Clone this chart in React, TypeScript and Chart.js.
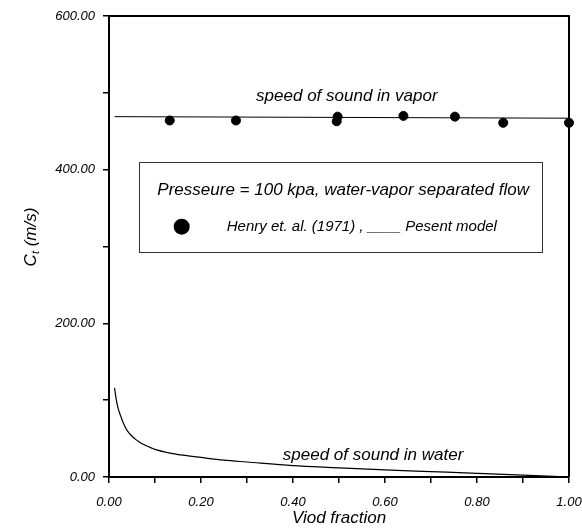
import React, { useEffect, useRef } from "react";
import { Chart, registerables } from "chart.js";

Chart.register(...registerables);

// Present model: speed of sound in vapor
const vaporModelX = [0.012, 1.0];
const vaporModelY = [469, 467];

// Henry et al. (1971) measurements
const henryX = [0.132, 0.276, 0.497, 0.495, 0.64, 0.752, 0.857, 1.0];
const henryY = [464, 464, 469, 463, 470, 469, 461, 461];

// Present model: speed of sound in water
const waterX = [0.012, 0.016, 0.02, 0.025, 0.03, 0.035, 0.04, 0.05, 0.06, 0.07, 0.08, 0.1, 0.13, 0.16, 0.2, 0.25, 0.3, 0.4, 0.5, 0.6, 0.7, 0.8, 0.9, 1.0];
const waterY = [116, 100, 89, 80, 72, 65.5, 60, 53, 48, 44, 41, 36, 31.5, 28.5, 25.5, 22, 19.5, 14.7, 12, 9.2, 7, 4.8, 2.5, 0];

const xTitle = "Viod fraction";
const legendTitle = "Presseure = 100 kpa, water-vapor separated flow";
const legendEntry = "Henry et. al. (1971) , ____ Pesent model";
const vaporLabel = "speed of sound in vapor";
const waterLabel = "speed of sound in water";

const FONT = "'Liberation Sans', Arial, sans-serif";

const toPts = (xs: number[], ys: number[]) => xs.map((x, i) => ({ x, y: ys[i] }));

export default function App() {
  const ref = useRef<HTMLCanvasElement | null>(null);

  useEffect(() => {
    if (!ref.current) return;

    const decor = {
      id: "decor",
      afterDraw(chart: any) {
        const { ctx, chartArea: a, scales } = chart;
        const xs = scales.x;
        const ys = scales.y;
        const px = (v: number) => xs.getPixelForValue(v);
        const py = (v: number) => ys.getPixelForValue(v);
        ctx.save();
        // frame top/right
        ctx.strokeStyle = "#000";
        ctx.lineWidth = 2;
        ctx.beginPath();
        ctx.moveTo(a.left, a.top);
        ctx.lineTo(a.right, a.top);
        ctx.lineTo(a.right, a.bottom);
        ctx.stroke();

        ctx.fillStyle = "#000";
        ctx.textBaseline = "middle";
        // annotations
        ctx.font = `italic 17px ${FONT}`;
        ctx.textAlign = "center";
        ctx.fillText(vaporLabel, px(0.517), py(495));
        ctx.fillText(waterLabel, px(0.574), py(28.6));

        // legend box
        const bx0 = px(0.065), bx1 = px(0.941), by0 = py(410), by1 = py(293);
        ctx.lineWidth = 1;
        ctx.strokeStyle = "#333";
        ctx.strokeRect(Math.round(bx0) + 0.5, Math.round(by0) + 0.5, Math.round(bx1 - bx0), Math.round(by1 - by0));
        ctx.font = `italic 17px ${FONT}`;
        ctx.textAlign = "center";
        ctx.fillText(legendTitle, px(0.509), py(372.7));
        ctx.beginPath();
        ctx.arc(px(0.158), py(325.8), 8, 0, Math.PI * 2);
        ctx.fill();
        ctx.font = `italic 15px ${FONT}`;
        ctx.textAlign = "left";
        ctx.fillText(legendEntry, px(0.256), py(326));

        // x title
        ctx.font = `italic 17px ${FONT}`;
        ctx.textAlign = "center";
        ctx.fillText(xTitle, (a.left + a.right) / 2, 518);

        // y title: C_t (m/s)
        ctx.translate(30, 237);
        ctx.rotate(-Math.PI / 2);
        ctx.textAlign = "left";
        ctx.textBaseline = "alphabetic";
        ctx.font = `italic 17px ${FONT}`;
        const c = "C";
        const cw = ctx.measureText(c).width;
        const rest = " (m/s)";
        const rw = ctx.measureText(rest).width;
        ctx.font = `italic 11px ${FONT}`;
        const tw = ctx.measureText("t").width;
        const total = cw + tw + rw;
        let x0 = -total / 2;
        ctx.font = `italic 17px ${FONT}`;
        ctx.fillText(c, x0, 6);
        x0 += cw;
        ctx.font = `italic 11px ${FONT}`;
        ctx.fillText("t", x0, 9);
        x0 += tw;
        ctx.font = `italic 17px ${FONT}`;
        ctx.fillText(rest, x0, 6);
        ctx.restore();
      },
    };

    const chart = new Chart(ref.current, {
      type: "scatter",
      data: {
        datasets: [
          {
            label: "vapor model",
            data: toPts(vaporModelX, vaporModelY),
            showLine: true,
            borderColor: "#000",
            borderWidth: 1,
            pointRadius: 0,
          },
          {
            label: "water model",
            data: toPts(waterX, waterY),
            showLine: true,
            borderColor: "#000",
            borderWidth: 1.2,
            pointRadius: 0,
            cubicInterpolationMode: "monotone",
          },
          {
            label: "Henry et. al. (1971)",
            data: toPts(henryX, henryY),
            showLine: false,
            backgroundColor: "#000",
            borderColor: "#000",
            pointRadius: 4.5,
            clip: false,
          },
        ],
      },
      options: {
        animation: false,
        responsive: false,
        maintainAspectRatio: false,
        layout: { padding: { top: 16, right: 13, left: 0, bottom: 0 } },
        plugins: { legend: { display: false }, tooltip: { enabled: false } },
        scales: {
          x: {
            type: "linear",
            min: 0,
            max: 1,
            border: { display: true, color: "#000", width: 2 },
            grid: { drawOnChartArea: false, drawTicks: true, tickLength: 6, color: "#000", lineWidth: 1.5 },
            ticks: {
              stepSize: 0.1,
              color: "#000",
              padding: 12,
              maxRotation: 0,
              autoSkip: false,
              font: { family: FONT, size: 13, style: "italic" },
              callback: (v: any) => (Math.round(Number(v) * 10) % 2 === 0 ? Number(v).toFixed(2) : ""),
            },
            afterFit: (s: any) => {
              s.height = 52;
              s.paddingLeft = 0;
              s.paddingRight = 0;
            },
          },
          y: {
            type: "linear",
            min: 0,
            max: 600,
            border: { display: true, color: "#000", width: 2 },
            grid: { drawOnChartArea: false, drawTicks: true, tickLength: 6, color: "#000", lineWidth: 1.5 },
            ticks: {
              stepSize: 100,
              color: "#000",
              padding: 8,
              autoSkip: false,
              font: { family: FONT, size: 13, style: "italic" },
              callback: (v: any) => (Math.round(Number(v)) % 200 === 0 ? Number(v).toFixed(2) : ""),
            },
            afterFit: (s: any) => {
              s.width = 109;
              s.paddingTop = 0;
              s.paddingBottom = 0;
            },
          },
        },
      },
      plugins: [decor],
    } as any);

    return () => chart.destroy();
  }, []);

  return (
    <div style={{ position: "absolute", left: 0, top: 0, width: 582, height: 529, background: "#fff" }}>
      <canvas ref={ref} width={582} height={529} style={{ width: 582, height: 529, display: "block" }} />
    </div>
  );
}
